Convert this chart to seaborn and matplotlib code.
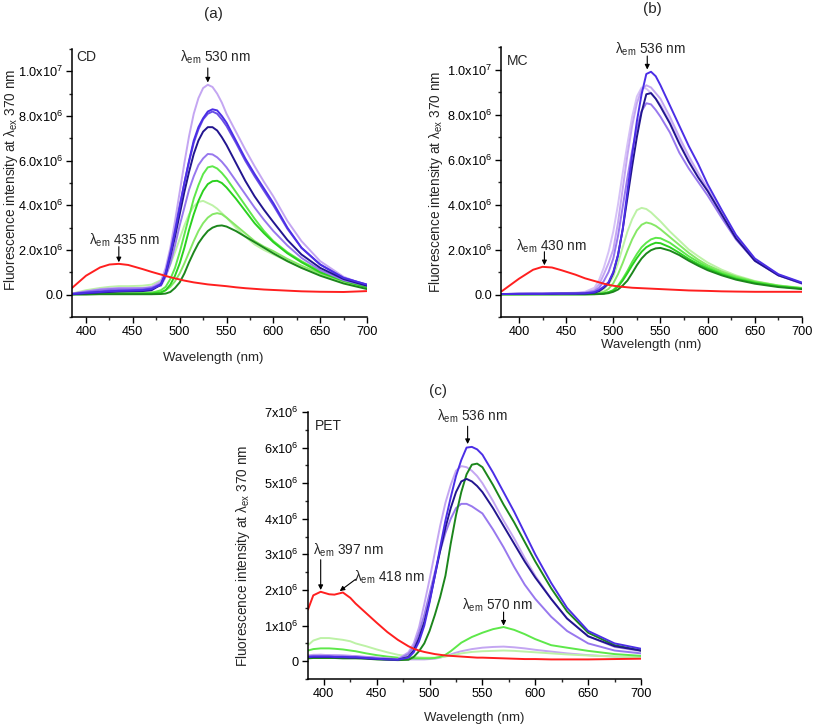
import numpy as np
import matplotlib
matplotlib.use("Agg")
import matplotlib.pyplot as plt
from matplotlib.ticker import MultipleLocator
import seaborn as sns

# intensities are in units of 1e6 counts
SCALE = 1e6

# ---------------- panel (a) CD ----------------
WL_A = [385, 400, 415, 425, 435, 445, 460, 470,
        480, 485, 490, 495, 500, 505, 510, 515, 520, 525, 530, 535, 540, 545, 550,
        560, 570, 580, 590, 600, 615, 630, 650, 675, 700]
A_RED = [0.30, 0.85, 1.22, 1.35, 1.38, 1.33, 1.15, 1.02,
         0.90, 0.84, 0.78, 0.73, 0.68, 0.63, 0.59, 0.55, 0.52, 0.49, 0.46, 0.44, 0.42, 0.40, 0.38,
         0.33, 0.29, 0.26, 0.23, 0.21, 0.18, 0.15, 0.13, 0.12, 0.16]
A_LAVENDER = [0.05, 0.15, 0.25, 0.28, 0.30, 0.30, 0.30, 0.35,
              0.60, 1.20, 2.10, 3.30, 4.60, 5.90, 7.10, 8.10, 8.80, 9.25, 9.40, 9.30, 9.00, 8.60, 8.10,
              7.30, 6.50, 5.75, 5.05, 4.40, 3.30, 2.40, 1.50, 0.80, 0.40]
A_BLUE = [0.03, 0.08, 0.12, 0.15, 0.17, 0.18, 0.20, 0.25,
          0.45, 0.95, 1.80, 2.80, 3.90, 5.00, 6.00, 6.90, 7.50, 7.90, 8.20, 8.30, 8.25, 8.00, 7.70,
          6.90, 6.10, 5.40, 4.75, 4.10, 3.00, 2.10, 1.35, 0.75, 0.45]
A_PURPLE_BLUE = [0.03, 0.10, 0.15, 0.18, 0.20, 0.20, 0.22, 0.28,
                 0.50, 1.00, 1.90, 2.90, 4.00, 5.00, 5.95, 6.80, 7.40, 7.85, 8.10, 8.20, 8.10, 7.85, 7.55,
                 6.80, 6.00, 5.30, 4.65, 4.00, 2.95, 2.10, 1.35, 0.75, 0.45]
A_NAVY = [0.02, 0.06, 0.10, 0.12, 0.14, 0.15, 0.16, 0.20,
          0.45, 0.90, 1.70, 2.60, 3.60, 4.60, 5.50, 6.30, 6.90, 7.30, 7.50, 7.50, 7.35, 7.05, 6.70,
          5.90, 5.10, 4.40, 3.80, 3.25, 2.45, 1.80, 1.20, 0.70, 0.40]
A_PURPLE = [0.04, 0.14, 0.22, 0.25, 0.27, 0.27, 0.28, 0.32,
            0.40, 0.80, 1.40, 2.20, 3.10, 3.90, 4.70, 5.30, 5.80, 6.10, 6.30, 6.28, 6.15, 5.95, 5.70,
            5.10, 4.50, 3.90, 3.35, 2.85, 2.20, 1.65, 1.10, 0.65, 0.40]
A_GREEN_BRIGHT = [0.02, 0.03, 0.04, 0.04, 0.05, 0.05, 0.06, 0.08,
                  0.20, 0.35, 0.70, 1.20, 1.90, 2.70, 3.50, 4.30, 4.90, 5.40, 5.70, 5.75, 5.65, 5.45, 5.20,
                  4.60, 4.00, 3.40, 2.85, 2.40, 1.90, 1.50, 1.05, 0.65, 0.35]
A_GREEN = [0.02, 0.02, 0.03, 0.03, 0.04, 0.04, 0.04, 0.05,
           0.10, 0.20, 0.45, 0.85, 1.40, 2.10, 2.90, 3.60, 4.20, 4.65, 4.95, 5.08, 5.10, 5.00, 4.80,
           4.30, 3.75, 3.20, 2.75, 2.35, 1.85, 1.45, 1.00, 0.62, 0.33]
A_GREEN_PALE = [0.05, 0.20, 0.30, 0.35, 0.38, 0.38, 0.40, 0.45,
                0.65, 0.90, 1.35, 1.90, 2.50, 3.10, 3.60, 3.95, 4.15, 4.20, 4.10, 4.00, 3.85, 3.65, 3.45,
                3.00, 2.60, 2.25, 2.00, 1.80, 1.50, 1.20, 0.90, 0.55, 0.30]
A_GREEN_LIGHT = [0.02, 0.05, 0.07, 0.08, 0.09, 0.09, 0.10, 0.10,
                 0.10, 0.20, 0.35, 0.60, 0.95, 1.40, 1.90, 2.40, 2.85, 3.20, 3.45, 3.60, 3.65, 3.60, 3.45,
                 3.10, 2.75, 2.40, 2.15, 1.95, 1.60, 1.30, 0.95, 0.60, 0.33]
A_GREEN_DARK = [0.01, 0.01, 0.02, 0.02, 0.02, 0.02, 0.02, 0.02,
                0.03, 0.05, 0.12, 0.30, 0.55, 0.95, 1.45, 1.90, 2.30, 2.60, 2.85, 3.00, 3.08, 3.10, 3.05,
                2.85, 2.60, 2.35, 2.10, 1.85, 1.50, 1.20, 0.85, 0.50, 0.25]

# ---------------- panel (b) MC ----------------
WL_B = [382, 400, 415, 425, 435, 445, 460, 470,
        480, 485, 490, 495, 500, 505, 510, 515, 520, 525, 530, 535, 540, 545, 550,
        560, 570, 580, 590, 600, 615, 630, 650, 675, 700]
B_RED = [0.15, 0.70, 1.10, 1.23, 1.20, 1.08, 0.88, 0.72,
         0.60, 0.54, 0.48, 0.43, 0.39, 0.36, 0.34, 0.32, 0.30, 0.29, 0.28, 0.27, 0.26, 0.25, 0.24,
         0.22, 0.20, 0.18, 0.17, 0.16, 0.14, 0.13, 0.12, 0.12, 0.12]
B_BLUE = [0.02, 0.03, 0.03, 0.03, 0.04, 0.04, 0.04, 0.05,
          0.10, 0.20, 0.35, 0.55, 1.00, 1.75, 2.90, 4.60, 6.20, 7.70, 8.90, 9.80, 9.90, 9.70, 9.30,
          8.40, 7.50, 6.60, 5.80, 4.90, 3.75, 2.65, 1.60, 0.90, 0.53]
B_LAVENDER = [0.02, 0.03, 0.04, 0.04, 0.05, 0.05, 0.06, 0.08,
              0.20, 0.45, 0.90, 1.40, 2.00, 3.20, 4.70, 6.20, 7.50, 8.50, 9.10, 9.30, 9.20, 8.95, 8.70,
              7.90, 7.00, 6.15, 5.40, 4.70, 3.60, 2.55, 1.55, 0.88, 0.50]
B_LAVENDER_LIGHT = [0.02, 0.04, 0.05, 0.05, 0.06, 0.06, 0.08, 0.12,
                    0.30, 0.65, 1.20, 1.90, 2.80, 4.00, 5.40, 6.70, 7.90, 8.80, 9.20, 9.15, 8.95, 8.70, 8.45,
                    7.70, 6.85, 6.00, 5.25, 4.60, 3.55, 2.50, 1.50, 0.85, 0.50]
B_NAVY = [0.02, 0.03, 0.03, 0.03, 0.03, 0.04, 0.04, 0.04,
          0.08, 0.15, 0.30, 0.50, 0.95, 1.75, 2.90, 4.30, 5.70, 7.00, 8.10, 8.90, 8.95, 8.70, 8.35,
          7.60, 6.70, 5.90, 5.20, 4.60, 3.55, 2.50, 1.50, 0.85, 0.50]
B_PURPLE = [0.02, 0.03, 0.04, 0.04, 0.05, 0.05, 0.06, 0.08,
            0.15, 0.30, 0.60, 1.00, 1.60, 2.60, 3.90, 5.20, 6.40, 7.40, 8.15, 8.50, 8.45, 8.20, 7.90,
            7.20, 6.30, 5.60, 5.00, 4.40, 3.40, 2.45, 1.50, 0.85, 0.48]
B_GREEN_PALE = [0.01, 0.02, 0.02, 0.02, 0.02, 0.02, 0.03, 0.03,
                0.05, 0.12, 0.25, 0.45, 0.80, 1.40, 2.10, 2.80, 3.35, 3.75, 3.85, 3.80, 3.65, 3.45, 3.25,
                2.80, 2.40, 2.00, 1.70, 1.42, 1.10, 0.85, 0.60, 0.40, 0.30]
B_GREEN_LIGHT = [0.01, 0.01, 0.02, 0.02, 0.02, 0.02, 0.02, 0.02,
                 0.03, 0.06, 0.12, 0.25, 0.50, 0.90, 1.40, 1.95, 2.45, 2.85, 3.10, 3.20, 3.15, 3.05, 2.90,
                 2.55, 2.20, 1.85, 1.55, 1.30, 1.02, 0.80, 0.58, 0.40, 0.28]
B_GREEN_BRIGHT = [0.01, 0.01, 0.01, 0.01, 0.01, 0.01, 0.01, 0.01,
                  0.02, 0.03, 0.05, 0.10, 0.20, 0.40, 0.70, 1.05, 1.45, 1.80, 2.10, 2.30, 2.45, 2.52, 2.50,
                  2.30, 2.00, 1.70, 1.45, 1.22, 0.95, 0.75, 0.55, 0.38, 0.28]
B_GREEN = [0.01, 0.01, 0.01, 0.01, 0.01, 0.01, 0.01, 0.01,
           0.02, 0.03, 0.05, 0.10, 0.18, 0.35, 0.62, 0.95, 1.30, 1.62, 1.90, 2.10, 2.22, 2.30, 2.28,
           2.10, 1.85, 1.58, 1.35, 1.15, 0.90, 0.70, 0.52, 0.36, 0.26]
B_GREEN_DARK = [0.01, 0.01, 0.01, 0.01, 0.01, 0.01, 0.01, 0.01,
                0.01, 0.02, 0.03, 0.06, 0.12, 0.22, 0.40, 0.62, 0.95, 1.30, 1.60, 1.82, 1.97, 2.05, 2.07,
                1.95, 1.75, 1.50, 1.28, 1.08, 0.85, 0.66, 0.48, 0.33, 0.24]

# ---------------- panel (c) PET ----------------
WL_C = [385, 390, 397, 405, 410, 418, 425, 430,
        440, 450, 460, 470,
        480, 485, 490, 495, 500, 505, 510, 515, 520, 525, 530, 535, 540, 545, 550,
        560, 570, 580, 590, 600, 615, 630, 650, 675, 700]
C_RED = [1.45, 1.85, 1.95, 1.88, 1.87, 1.93, 1.78, 1.62,
         1.35, 1.08, 0.82, 0.60,
         0.42, 0.35, 0.30, 0.26, 0.23, 0.20, 0.18, 0.16, 0.15, 0.14, 0.13, 0.12, 0.11, 0.10, 0.10,
         0.09, 0.08, 0.07, 0.06, 0.06, 0.05, 0.05, 0.05, 0.06, 0.07]
C_BLUE = [0.12, 0.13, 0.13, 0.13, 0.12, 0.12, 0.11, 0.11,
          0.09, 0.07, 0.05, 0.04,
          0.10, 0.25, 0.55, 1.00, 1.65, 2.40, 3.20, 3.95, 4.60, 5.20, 5.65, 6.00, 6.02, 5.95, 5.80,
          5.30, 4.75, 4.20, 3.60, 3.00, 2.20, 1.50, 0.85, 0.50, 0.35]
C_GREEN_DARK = [0.08, 0.09, 0.09, 0.09, 0.09, 0.08, 0.08, 0.08,
                0.07, 0.05, 0.04, 0.03,
                0.04, 0.12, 0.28, 0.50, 0.85, 1.30, 1.80, 2.40, 3.30, 4.10, 4.75, 5.25, 5.52, 5.55, 5.45,
                4.95, 4.40, 3.90, 3.35, 2.80, 2.05, 1.40, 0.80, 0.45, 0.30]
C_LAVENDER = [0.16, 0.18, 0.18, 0.17, 0.17, 0.16, 0.15, 0.14,
              0.12, 0.10, 0.08, 0.06,
              0.25, 0.50, 0.95, 1.60, 2.30, 3.05, 3.80, 4.45, 4.95, 5.35, 5.48, 5.45, 5.35, 5.20, 5.00,
              4.50, 3.95, 3.45, 2.90, 2.40, 1.75, 1.20, 0.70, 0.40, 0.28]
C_NAVY = [0.12, 0.12, 0.12, 0.12, 0.11, 0.11, 0.10, 0.10,
          0.08, 0.06, 0.05, 0.04,
          0.12, 0.30, 0.65, 1.10, 1.70, 2.40, 3.10, 3.75, 4.30, 4.75, 5.05, 5.12, 5.05, 4.92, 4.75,
          4.30, 3.80, 3.30, 2.80, 2.35, 1.75, 1.20, 0.70, 0.42, 0.30]
C_PURPLE = [0.14, 0.15, 0.15, 0.15, 0.14, 0.14, 0.13, 0.13,
            0.11, 0.09, 0.07, 0.05,
            0.20, 0.40, 0.80, 1.30, 1.90, 2.50, 3.10, 3.60, 4.00, 4.30, 4.42, 4.42, 4.35, 4.25, 4.15,
            3.70, 3.20, 2.65, 2.15, 1.75, 1.25, 0.85, 0.50, 0.30, 0.22]
C_GREEN_BRIGHT = [0.30, 0.34, 0.36, 0.36, 0.35, 0.33, 0.30, 0.28,
                  0.22, 0.17, 0.13, 0.10,
                  0.08, 0.08, 0.08, 0.08, 0.08, 0.09, 0.12, 0.18, 0.28, 0.40, 0.52, 0.60, 0.68, 0.74, 0.80,
                  0.90, 0.96, 0.88, 0.76, 0.62, 0.45, 0.38, 0.29, 0.20, 0.15]
C_GREEN_PALE = [0.45, 0.58, 0.65, 0.65, 0.63, 0.60, 0.56, 0.50,
                0.42, 0.33, 0.25, 0.18,
                0.14, 0.12, 0.11, 0.10, 0.10, 0.10, 0.11, 0.13, 0.16, 0.19, 0.22, 0.24, 0.26, 0.27, 0.28,
                0.29, 0.30, 0.29, 0.27, 0.25, 0.22, 0.19, 0.16, 0.13, 0.11]
C_LAVENDER_SMALL = [0.15, 0.17, 0.18, 0.17, 0.17, 0.16, 0.15, 0.14,
                    0.12, 0.10, 0.08, 0.06,
                    0.05, 0.05, 0.05, 0.05, 0.06, 0.07, 0.10, 0.14, 0.19, 0.24, 0.28, 0.31, 0.34, 0.36, 0.38,
                    0.40, 0.41, 0.39, 0.36, 0.32, 0.27, 0.22, 0.17, 0.13, 0.11]

# colours of the traces
RED = "#ff1f1f"
LAVENDER = "#c4a6f2"
LAVENDER_LIGHT = "#d6c2f7"
BLUE = "#4b2ee6"
PURPLE_BLUE = "#6a4fe6"
NAVY = "#22158f"
PURPLE = "#9878ee"
GREEN_BRIGHT = "#5ee84a"
GREEN = "#2bd11f"
GREEN_PALE = "#bdf2a6"
GREEN_LIGHT = "#86e866"
GREEN_DARK = "#1c861c"

FONT = ["Liberation Sans", "DejaVu Sans"]
YLABEL = "Fluorescence intensity at λ$_{\\mathrm{ex}}$ 370 nm"


def style_axes(ax, yticks, ylabels, ylim, yminor, xlim):
    """Origin-like axes: only left/bottom spines, outward ticks"""
    sns.despine(ax=ax)
    ax.set_xlim(*xlim)
    ax.set_ylim(*ylim)
    ax.set_xticks(list(range(400, 701, 50)))
    ax.xaxis.set_minor_locator(MultipleLocator(25))
    ax.set_yticks(yticks)
    ax.set_yticklabels(ylabels)
    ax.yaxis.set_minor_locator(MultipleLocator(yminor))
    ax.tick_params(which="major", direction="out", length=4, width=1.0,
                   labelsize=9.2, pad=2.5, colors="black")
    ax.tick_params(which="minor", direction="out", length=2.5, width=1.0)
    for side in ("left", "bottom"):
        ax.spines[side].set_linewidth(1.1)
        ax.spines[side].set_color("black")
    ax.grid(False)


def draw_curves(ax, wl, curves):
    for vals, color in curves:
        sns.lineplot(x=wl, y=np.array(vals) * SCALE, color=color, lw=1.4,
                     ax=ax, legend=False)


def mark_peak(ax, x, y_tip, y_tail, label, tx, ty, x_tail=None):
    if x_tail is None:
        x_tail = x
    ax.annotate("", xy=(x, y_tip * SCALE), xytext=(x_tail, y_tail * SCALE),
                arrowprops=dict(arrowstyle="-|>", color="black", lw=0.8,
                                mutation_scale=7, shrinkA=0, shrinkB=0))
    ax.text(tx, ty * SCALE, label, ha="center", va="center", fontsize=9.8)


def em(nm):
    return "λ$_{\\mathrm{em}}$ " + str(nm) + " nm"


def main():
    sns.set_theme(style="ticks")
    plt.rcParams["font.family"] = FONT
    plt.rcParams["mathtext.fontset"] = "custom"
    plt.rcParams["mathtext.rm"] = "Liberation Sans"
    plt.rcParams["mathtext.it"] = "Liberation Sans:italic"
    plt.rcParams["mathtext.bf"] = "Liberation Sans:bold"

    fig = plt.figure(figsize=(8.13, 7.28), dpi=100)
    W, H = 813.0, 728.0

    def axes_px(left, top, right, bottom):
        return fig.add_axes([left / W, 1 - bottom / H, (right - left) / W, (bottom - top) / H])

    ab_ticks = [0, 2e6, 4e6, 6e6, 8e6, 1e7]
    ab_labels = ["0.0", "2.0x10$^6$", "4.0x10$^6$", "6.0x10$^6$", "8.0x10$^6$", "1.0x10$^7$"]

    # ---- (a) CD ----
    ax_a = axes_px(72, 49, 367, 317)
    draw_curves(ax_a, WL_A, [
        (A_GREEN_PALE, GREEN_PALE), (A_GREEN_LIGHT, GREEN_LIGHT),
        (A_GREEN_BRIGHT, GREEN_BRIGHT), (A_GREEN, GREEN), (A_GREEN_DARK, GREEN_DARK),
        (A_LAVENDER, LAVENDER), (A_PURPLE, PURPLE), (A_PURPLE_BLUE, PURPLE_BLUE),
        (A_NAVY, NAVY), (A_BLUE, BLUE), (A_RED, RED)])
    style_axes(ax_a, ab_ticks, ab_labels, (-1e6, 1.1e7), 1e6, (385, 700))
    ax_a.text(0.015, 0.995, "CD", transform=ax_a.transAxes, ha="left", va="top", fontsize=10)
    mark_peak(ax_a, 530, 9.5, 10.15, em(530), 538, 10.65)
    mark_peak(ax_a, 435, 1.45, 2.15, em(435), 441, 2.45)
    ax_a.set_xlabel("Wavelength (nm)", fontsize=9.5, va="center")
    ax_a.xaxis.set_label_coords(0.478, -0.153)
    ax_a.set_ylabel(YLABEL, fontsize=9.8, va="center")
    ax_a.yaxis.set_label_coords(-0.207, 0.51)

    # ---- (b) MC ----
    ax_b = axes_px(501, 47, 802, 317)
    draw_curves(ax_b, WL_B, [
        (B_GREEN_PALE, GREEN_PALE), (B_GREEN_LIGHT, GREEN_LIGHT),
        (B_GREEN_BRIGHT, GREEN_BRIGHT), (B_GREEN, GREEN), (B_GREEN_DARK, GREEN_DARK),
        (B_LAVENDER_LIGHT, LAVENDER_LIGHT), (B_LAVENDER, LAVENDER), (B_PURPLE, PURPLE),
        (B_NAVY, NAVY), (B_BLUE, BLUE), (B_RED, RED)])
    style_axes(ax_b, ab_ticks, ab_labels, (-1e6, 1.1e7), 1e6, (381, 700))
    ax_b.text(0.02, 0.975, "MC", transform=ax_b.transAxes, ha="left", va="top", fontsize=10)
    mark_peak(ax_b, 536, 10.0, 10.6, em(536), 539, 10.9)
    mark_peak(ax_b, 427, 1.3, 1.9, em(430), 434, 2.15)
    ax_b.set_xlabel("Wavelength (nm)", fontsize=9.5, va="center")
    ax_b.xaxis.set_label_coords(0.5, -0.104)
    ax_b.set_ylabel(YLABEL, fontsize=9.8, va="center")
    ax_b.yaxis.set_label_coords(-0.215, 0.5)

    # ---- (c) PET ----
    ax_c = axes_px(308, 412, 641, 679)
    draw_curves(ax_c, WL_C, [
        (C_LAVENDER_SMALL, LAVENDER), (C_GREEN_PALE, GREEN_PALE),
        (C_GREEN_BRIGHT, GREEN_BRIGHT), (C_LAVENDER, LAVENDER), (C_PURPLE, PURPLE),
        (C_GREEN_DARK, GREEN_DARK), (C_NAVY, NAVY), (C_BLUE, BLUE), (C_RED, RED)])
    c_ticks = [0, 1e6, 2e6, 3e6, 4e6, 5e6, 6e6, 7e6]
    c_labels = ["0"] + ["%dx10$^6$" % k for k in range(1, 8)]
    style_axes(ax_c, c_ticks, c_labels, (-5e5, 7e6), 5e5, (385, 700))
    ax_c.text(0.02, 0.975, "PET", transform=ax_c.transAxes, ha="left", va="top", fontsize=10)
    mark_peak(ax_c, 536, 6.1, 6.6, em(536), 541, 6.87)
    mark_peak(ax_c, 397, 2.0, 2.85, em(397), 423, 3.12)
    mark_peak(ax_c, 415, 1.97, 2.3, em(418), 462, 2.37, x_tail=430)
    mark_peak(ax_c, 570, 1.0, 1.38, em(570), 564, 1.57)
    ax_c.set_xlabel("Wavelength (nm)", fontsize=9.5, va="center")
    ax_c.xaxis.set_label_coords(0.5, -0.146)
    ax_c.set_ylabel(YLABEL, fontsize=9.8, va="center")
    ax_c.yaxis.set_label_coords(-0.195, 0.46)

    # panel titles
    fig.text(213 / W, 1 - 14 / H, "(a)", ha="center", va="center", fontsize=11)
    fig.text(652 / W, 1 - 9 / H, "(b)", ha="center", va="center", fontsize=11)
    fig.text(438 / W, 1 - 391 / H, "(c)", ha="center", va="center", fontsize=11)

    fig.savefig("out.png", dpi=100)
    plt.close(fig)


if __name__ == "__main__":
    main()
